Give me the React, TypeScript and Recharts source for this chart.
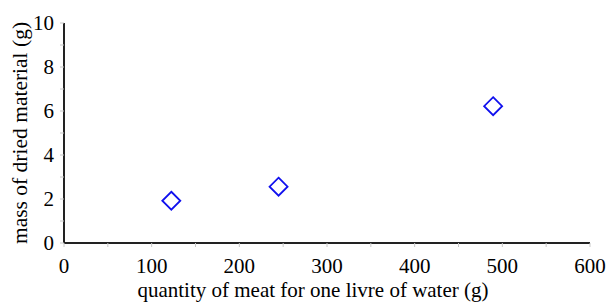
import React from 'react';
import { ScatterChart, Scatter, XAxis, YAxis } from 'recharts';

const meatGrams = [122.4, 244.75, 489.5];
const driedGrams = [1.92, 2.56, 6.22];
const xTicks = [0, 50, 100, 150, 200, 250, 300, 350, 400, 450, 500, 550, 600];
const yTicks = [0, 1, 2, 3, 4, 5, 6, 7, 8, 9, 10];

const data = meatGrams.map((x, i) => ({ x, y: driedGrams[i] }));

const FONT = '"Liberation Serif", "Times New Roman", serif';

const Diamond = (props: any) => {
  const { cx, cy } = props;
  const r = 9;
  return (
    <path
      d={`M${cx},${cy - r}L${cx + r},${cy}L${cx},${cy + r}L${cx - r},${cy}Z`}
      fill="none"
      stroke="#1010ee"
      strokeWidth={1.8}
    />
  );
};

export default function App() {
  return (
    <div style={{ position: 'absolute', left: 0, top: 0, width: 609, height: 303, background: '#fff' }}>
      <ScatterChart width={609} height={303} margin={{ top: 23, right: 19, left: 0, bottom: 0 }}>
        <XAxis
          type="number"
          dataKey="x"
          domain={[0, 600]}
          ticks={xTicks}
          interval={0}
          tickFormatter={(v: number) => (v % 100 === 0 ? String(v) : '')}
          tickSize={4}
          tickLine={{ stroke: '#c8c8c8', strokeWidth: 1 }}
          axisLine={{ stroke: '#222', strokeWidth: 2 }}
          tick={{ fill: '#000', fontSize: 21, fontFamily: FONT, dy: 9 }}
          height={60}
          label={{
            value: 'quantity of meat for one livre of water (g)',
            position: 'insideBottom',
            offset: 6,
            dx: -14,
            fill: '#000',
            fontSize: 21,
            fontFamily: FONT,
          }}
        />
        <YAxis
          type="number"
          dataKey="y"
          domain={[0, 10]}
          ticks={yTicks}
          interval={0}
          tickFormatter={(v: number) => (v % 2 === 0 ? String(v) : '')}
          tickSize={4}
          tickLine={{ stroke: '#c8c8c8', strokeWidth: 1 }}
          axisLine={{ stroke: '#222', strokeWidth: 2 }}
          tick={{ fill: '#000', fontSize: 21, fontFamily: FONT, dx: -4 }}
          width={64}
          label={{
            value: 'mass of dried material (g)',
            angle: -90,
            position: 'insideLeft',
            offset: 19,
            style: { textAnchor: 'middle' },
            fill: '#000',
            fontSize: 21.5,
            fontFamily: FONT,
          }}
        />
        <Scatter data={data} shape={<Diamond />} isAnimationActive={false} />
      </ScatterChart>
    </div>
  );
}
